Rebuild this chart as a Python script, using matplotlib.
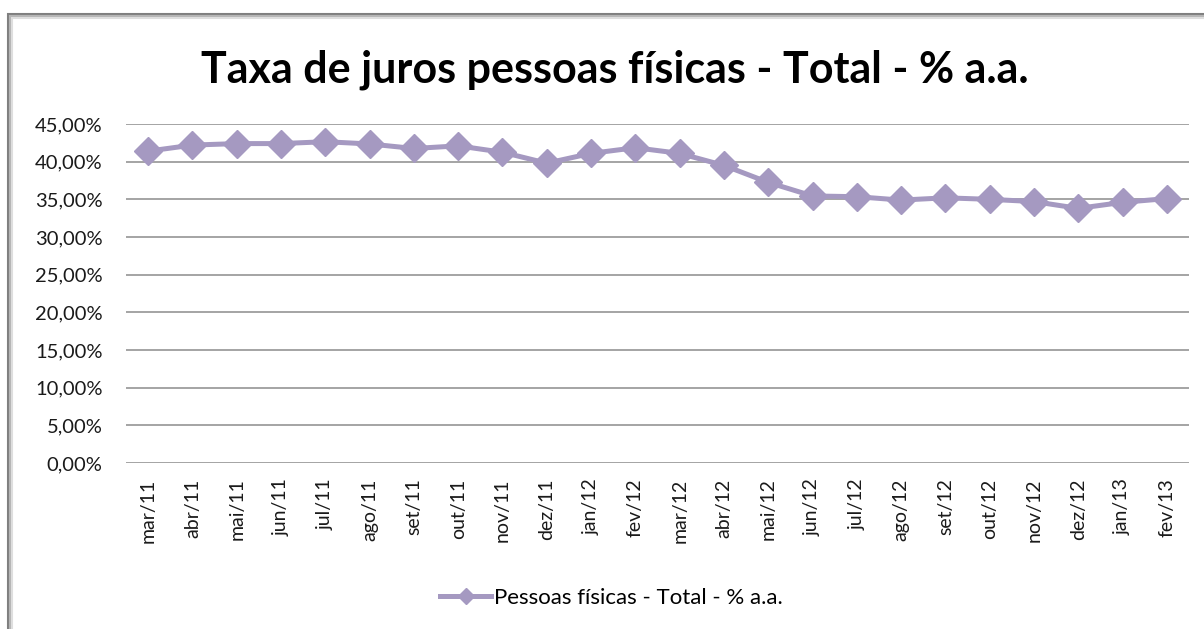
import matplotlib.pyplot as plt
from matplotlib.ticker import FuncFormatter
from matplotlib.patches import Rectangle

months = ["mar/11", "abr/11", "mai/11", "jun/11", "jul/11", "ago/11", "set/11",
          "out/11", "nov/11", "dez/11", "jan/12", "fev/12", "mar/12", "abr/12",
          "mai/12", "jun/12", "jul/12", "ago/12", "set/12", "out/12", "nov/12",
          "dez/12", "jan/13", "fev/13"]
taxa = [41.4, 42.2, 42.4, 42.4, 42.65, 42.35, 41.75, 42.1, 41.25, 39.8, 41.1, 41.85,
        41.1, 39.5, 37.25, 35.45, 35.35, 34.9, 35.2, 35.0, 34.7, 33.8, 34.6, 35.1]
y_ticks = [0, 5, 10, 15, 20, 25, 30, 35, 40, 45]

serie_cor = "#A599C1"
font = ["Lato", "DejaVu Sans"]
plt.rcParams["font.family"] = font

W, H = 1204, 629
fig = plt.figure(figsize=(W / 100, H / 100), dpi=100)

# moldura com sombra (estilo Excel)
for off, c, lw in [(0, "#7f7f7f", 1.5), (2, "#b5b5b5", 1.5), (4, "#dedede", 1.5)]:
    fig.add_artist(Rectangle(((8 + off) / W, -0.1), 1.2, 1 - (14 + off) / H + 0.1,
                             transform=fig.transFigure, fill=False,
                             edgecolor=c, linewidth=lw))

ax = fig.add_axes([126 / W, 1 - 463 / H, (1189 - 126) / W, (463 - 124) / H])

x = list(range(len(months)))
ax.plot(x, taxa, color=serie_cor, linewidth=3.6, marker="D", markersize=14,
        label="Pessoas físicas - Total - % a.a.")

ax.set_xlim(-0.5, len(months) - 0.5)
ax.set_ylim(0, 45)
ax.set_yticks(y_ticks)
ax.yaxis.set_major_formatter(FuncFormatter(lambda v, p: f"{v:.2f}%".replace(".", ",")))
ax.set_xticks(x)
ax.set_xticklabels(months, rotation=90, fontsize=14, color="#1a1a1a")
ax.tick_params(axis="y", labelsize=14.5, length=0, pad=17, labelcolor="#1a1a1a")
ax.tick_params(axis="x", length=0, pad=11)
ax.grid(axis="y", color="#8c8c8c", linewidth=1.1)
ax.set_axisbelow(True)
for s in ax.spines.values():
    s.set_visible(False)

fig.text(0.511, 1 - 70 / H, "Taxa de juros pessoas físicas - Total - % a.a.",
         ha="center", va="center", fontsize=31, fontweight="bold", color="black")

fig.legend(loc="center", bbox_to_anchor=(0.508, 1 - 598 / H), frameon=False,
           fontsize=16, handlelength=2.3, handletextpad=0.15, markerscale=0.6)

plt.savefig("out.png", dpi=100)
